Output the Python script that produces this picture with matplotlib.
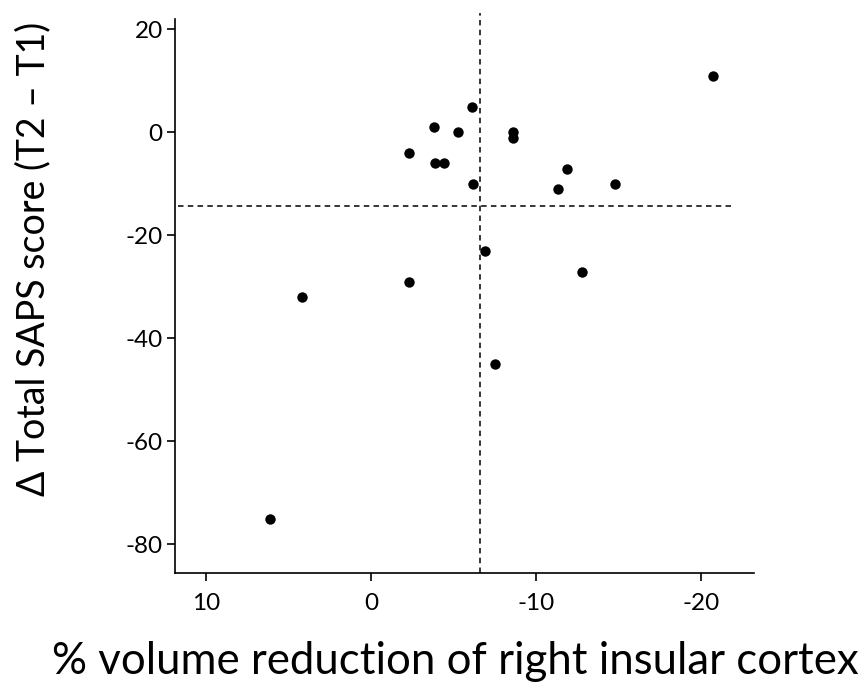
import matplotlib
matplotlib.use("Agg")
import matplotlib.pyplot as plt

plt.rcParams['font.family'] = ['Lato', 'DejaVu Sans']

# data
volume_reduction = [6.1, 4.2, -2.3, -6.9, -12.8, -7.5, -6.1, -3.8, -5.3, -8.6,
                    -8.6, -2.3, -3.9, -4.4, -6.2, -11.9, -11.3, -14.8, -20.7]
saps_change = [-75, -32, -29, -23, -27, -45, 5, 1, 0, 0,
               -1, -4, -6, -6, -10, -7, -11, -10, 11]
x_ticks = [10, 0, -10, -20]
y_ticks = [20, 0, -20, -40, -60, -80]
x_cut = -6.6
y_cut = -14.2

fig = plt.figure(figsize=(8.68, 6.95), dpi=100)
ax = fig.add_axes([174.5/868, 1-573.3/695, (754-174.5)/868, (573.3-13)/695])

ax.set_xlim(11.9, -23.2)
ax.set_ylim(-85.6, 23.2)

ax.scatter(volume_reduction, saps_change, s=56, color='black', zorder=3, linewidths=0)

ax.plot([x_cut, x_cut], [-85.6, 23.2], color='black', lw=1.1, dashes=(3.6, 2.8), zorder=2)
ax.plot([11.7, -21.8], [y_cut, y_cut], color='black', lw=1.1, dashes=(3.6, 2.8), zorder=2)

for s in ['top', 'right']:
    ax.spines[s].set_visible(False)
ax.spines['left'].set_bounds(-85.6, 22)
ax.spines['left'].set_linewidth(1.2)
ax.spines['bottom'].set_linewidth(1.2)

ax.set_xticks(x_ticks)
ax.set_xticklabels([str(v) for v in x_ticks])
ax.set_yticks(y_ticks)
ax.set_yticklabels([str(v) for v in y_ticks])
ax.tick_params(axis='both', direction='out', length=6, width=1.2, labelsize=17.5, colors='black')
ax.tick_params(axis='x', pad=8)
ax.tick_params(axis='y', pad=2.5)

fig.text(455/868, 1-662/695, '% volume reduction of right insular cortex',
         ha='center', va='center', fontsize=31.5)
fig.text(33/868, 1-259/695, 'Δ Total SAPS score (T2 – T1)',
         ha='center', va='center', rotation=90, fontsize=27)

fig.savefig('out.png', dpi=100)
